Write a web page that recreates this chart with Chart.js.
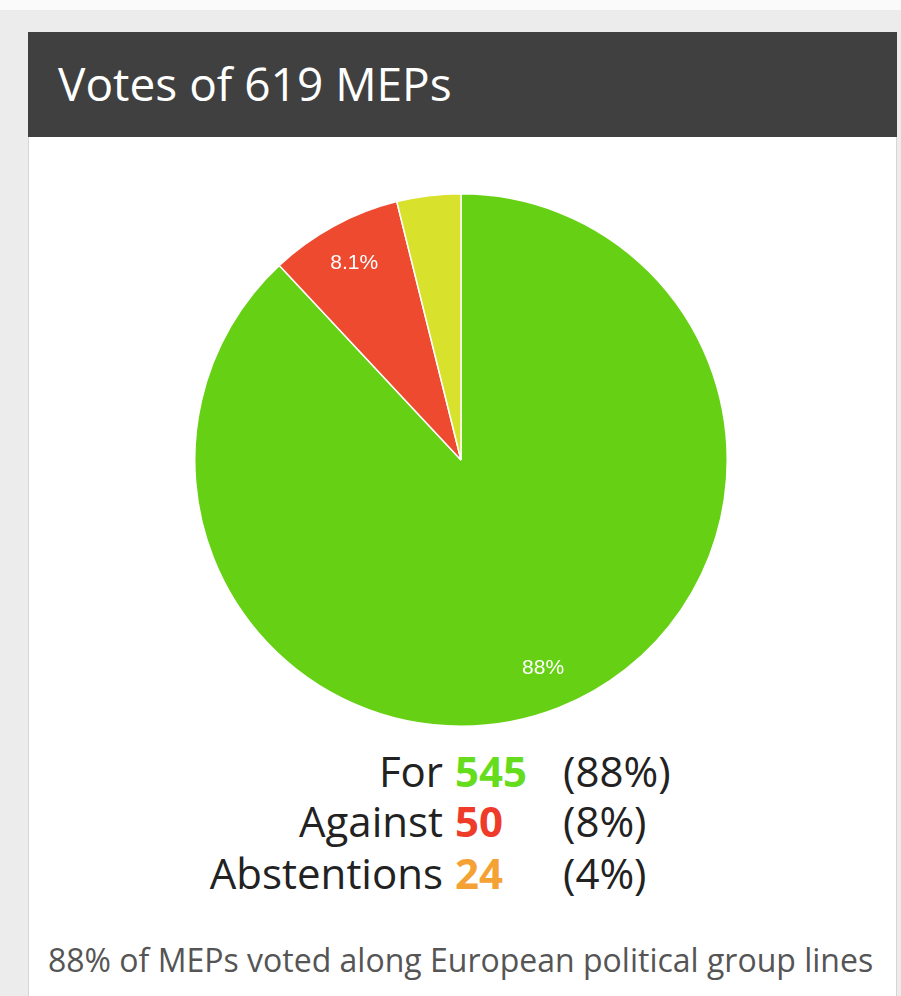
<!DOCTYPE html>
<html>
<head>
<meta charset="utf-8">
<script src="https://cdn.jsdelivr.net/npm/chart.js@4"></script>
<style>
  html, body { margin: 0; padding: 0; }
  body { width: 901px; height: 996px; background: #ececec; position: relative; overflow: hidden; font-family: "Open Sans", sans-serif; }
  #topband { position: absolute; left: 0; top: 0; width: 901px; height: 10px; background: #fafafa; }
  #card { position: absolute; left: 28px; top: 32px; width: 869px; height: 980px; background: #ffffff; border: 1px solid #d6d6d6; box-sizing: border-box; }
  #header { position: absolute; left: 28px; top: 32px; width: 869px; height: 105px; background: #404040; }
  #title { position: absolute; left: 58px; top: 53px; color: #ffffff; font-size: 46px; line-height: 60px; white-space: nowrap; }
  #chartBox { position: absolute; left: 194px; top: 193px; width: 534px; height: 534px; }
  .row { position: absolute; left: 0; width: 901px; height: 50px; font-size: 42px; line-height: 50px; color: #222; white-space: nowrap; }
  .lab { position: absolute; right: 458px; text-align: right; }
  .num { position: absolute; left: 455px; font-weight: 700; }
  .pct { position: absolute; left: 563px; }
  #footer { position: absolute; left: 48px; top: 940px; font-size: 32px; line-height: 40px; color: #555555; white-space: nowrap; }
</style>
</head>
<body>
<div id="topband"></div>
<div id="card"></div>
<div id="header"></div>
<div id="title">Votes of 619 MEPs</div>
<div id="chartBox"><canvas id="c" width="534" height="534"></canvas></div>
<div id="legend"></div>
<div id="footer">88% of MEPs voted along European political group lines</div>
<script>
const categories = ["For", "Against", "Abstentions"];
const votes = [545, 50, 24];
const sliceColors = ["#66d014", "#ee4a2f", "#d8e22c"];
const numberColors = ["#66dd1c", "#ee3b2a", "#f5a234"];
const legendPercents = ["(88%)", "(8%)", "(4%)"];
const totalMEPs = 619;

const total = votes.reduce((a, b) => a + b, 0);

// Legend rows
const legendEl = document.getElementById('legend');
const rowTops = [746, 796, 848];
categories.forEach((cat, i) => {
  const row = document.createElement('div');
  row.className = 'row';
  row.style.top = rowTops[i] + 'px';
  row.innerHTML = '<span class="lab">' + cat + '</span>' +
    '<span class="num" style="color:' + numberColors[i] + '">' + votes[i] + '</span>' +
    '<span class="pct">' + legendPercents[i] + '</span>';
  legendEl.appendChild(row);
});

const sliceLabels = {
  id: 'sliceLabels',
  afterDatasetsDraw(chart) {
    const ctx = chart.ctx;
    const meta = chart.getDatasetMeta(0);
    const data = chart.data.datasets[0].data;
    ctx.save();
    ctx.fillStyle = '#ffffff';
    ctx.font = '21px "Liberation Sans", Arial, sans-serif';
    ctx.textAlign = 'center';
    ctx.textBaseline = 'middle';
    meta.data.forEach((arc, i) => {
      const pct = data[i] / total * 100;
      if (pct < 5) return;
      const p = arc.getProps(['x', 'y', 'startAngle', 'endAngle', 'outerRadius'], true);
      const mid = (p.startAngle + p.endAngle) / 2;
      const r = p.outerRadius * 0.84;
      const text = Number(pct.toPrecision(2)) + '%';
      ctx.fillText(text, p.x + Math.cos(mid) * r, p.y + Math.sin(mid) * r);
    });
    ctx.restore();
  }
};

new Chart(document.getElementById('c'), {
  type: 'pie',
  data: {
    labels: categories,
    datasets: [{
      data: votes,
      backgroundColor: sliceColors,
      borderColor: '#ffffff',
      borderWidth: 1.5
    }]
  },
  options: {
    responsive: false,
    animation: false,
    layout: { padding: 0 },
    plugins: { legend: { display: false }, tooltip: { enabled: false } }
  },
  plugins: [sliceLabels]
});
</script>
</body>
</html>
